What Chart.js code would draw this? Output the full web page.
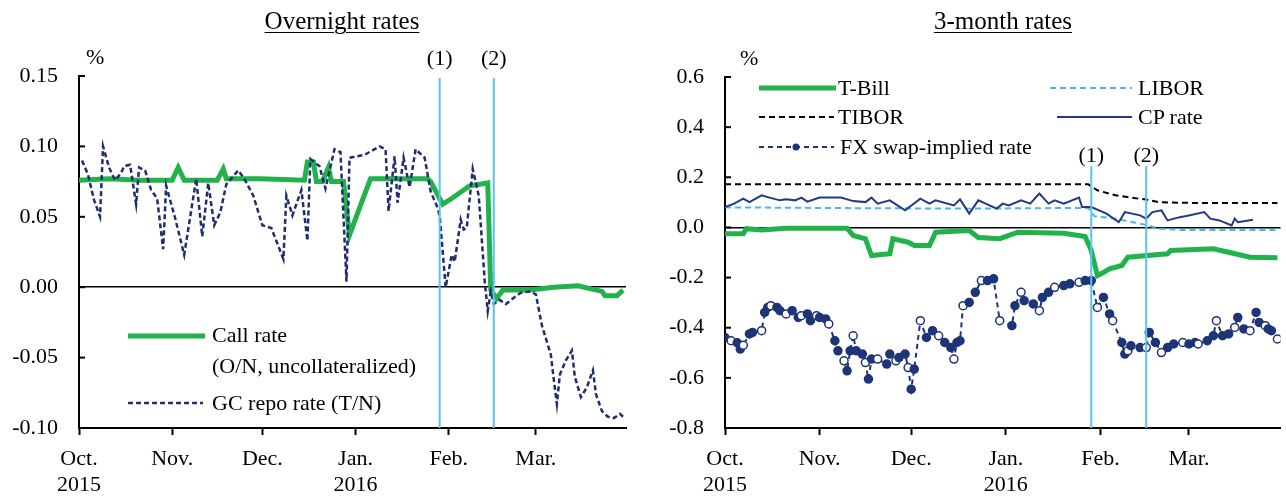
<!DOCTYPE html>
<html><head><meta charset="utf-8">
<script src="https://cdn.jsdelivr.net/npm/chart.js@4.4.0/dist/chart.umd.min.js"></script>
<style>
html,body{margin:0;padding:0;background:#fff;}
body{width:1286px;height:500px;position:relative;overflow:hidden;font-family:'Liberation Serif','Times New Roman',serif;color:#000;}
.t{position:absolute;white-space:nowrap;font-size:22px;line-height:22px;}
.title{font-size:25px;line-height:25px;text-decoration:underline;text-underline-offset:3px;text-decoration-thickness:1px;transform:translateX(-50%);}
.ev{transform:translateX(-50%);}
#c1{position:absolute;left:0;top:0;}
#c2{position:absolute;left:640px;top:0;}
#leg{position:absolute;left:0;top:0;}
</style></head><body>
<canvas id="c1" width="640" height="500"></canvas>
<canvas id="c2" width="646" height="500"></canvas>
<svg id="leg" width="1286" height="500">
  <line x1="128" y1="336" x2="205" y2="336" stroke="#21b24b" stroke-width="5"/>
  <line x1="128" y1="403" x2="203" y2="403" stroke="#1f2d6e" stroke-width="2.5" stroke-dasharray="5,3"/>
  <line x1="759" y1="88" x2="836" y2="88" stroke="#21b24b" stroke-width="5"/>
  <line x1="1050" y1="88" x2="1132" y2="88" stroke="#45b8e8" stroke-width="2" stroke-dasharray="6,4"/>
  <line x1="759" y1="117" x2="834" y2="117" stroke="#000" stroke-width="2" stroke-dasharray="6,4"/>
  <line x1="1057" y1="117" x2="1132" y2="117" stroke="#233a80" stroke-width="2"/>
  <line x1="759" y1="147" x2="834" y2="147" stroke="#1e3478" stroke-width="2" stroke-dasharray="5,4"/>
  <circle cx="796" cy="147" r="3.5" fill="#1e3478"/>
</svg>
<div class="t title" style="left:342px;top:8px;">Overnight rates</div>
<div class="t title" style="left:1003px;top:8px;">3-month rates</div>
<div class="t" style="left:86px;top:46px;">%</div>
<div class="t" style="left:740px;top:47px;">%</div>
<div class="t ev" id="l1a" style="left:438px;top:47px;">(1)</div>
<div class="t ev" id="l1b" style="left:492px;top:47px;">(2)</div>
<div class="t ev" id="l2a" style="left:1092px;top:144px;">(1)</div>
<div class="t ev" id="l2b" style="left:1147px;top:144px;">(2)</div>
<div class="t" style="left:212px;top:324px;">Call rate</div>
<div class="t" style="left:212px;top:355px;">(O/N, uncollateralized)</div>
<div class="t" style="left:212px;top:392px;">GC repo rate (T/N)</div>
<div class="t" style="left:838px;top:77px;">T-Bill</div>
<div class="t" style="left:1138px;top:77px;">LIBOR</div>
<div class="t" style="left:838px;top:106px;">TIBOR</div>
<div class="t" style="left:1138px;top:106px;">CP rate</div>
<div class="t" style="left:840px;top:136px;">FX swap-implied rate</div>
<script>
// x values: calendar days since 1 Oct 2015
const monthTickDays = [0, 31, 61, 92, 123, 152];
const monthTickLabels = [['Oct.', '2015'], ['Nov.'], ['Dec.'], ['Jan.', '2016'], ['Feb.'], ['Mar.']];
const eventDays = [120, 138];
const leftYTicks = [-0.10, -0.05, 0, 0.05, 0.10, 0.15];
const rightYTicks = [-0.8, -0.6, -0.4, -0.2, 0, 0.2, 0.4, 0.6];

// Overnight rates
const callDays = [0,10,20,31,33,35,46,48,49,60,75,76,78,79,81,83,84,88,90,94,97,105,116,117,121,124,130,136,137,139,141,150,158,166,170,174,175,179,181];
const callRate = [0.076,0.077,0.076,0.076,0.085,0.076,0.076,0.084,0.077,0.077,0.076,0.089,0.089,0.075,0.075,0.085,0.075,0.075,0.037,0.060,0.077,0.077,0.077,0.075,0.059,0.063,0.072,0.074,-0.002,-0.008,-0.002,-0.002,0.000,0.001,-0.001,-0.003,-0.006,-0.006,-0.002];
const gcDays = [1,3,5,7,8,10,12,14,15,17,19,20,22,24,26,28,29,32,35,39,41,43,45,47,49,53,55,58,61,64,68,69,71,74,76,77,80,82,85,87,89,90,95,100,102,103,105,106,108,110,112,115,117,119,120,122,124,125,127,128,129,131,133,135,136,137,138,140,142,145,147,150,152,154,157,158,159,160,162,164,165,167,169,171,172,174,176,178,180,181];
const gcRepo = [0.090,0.080,0.062,0.050,0.100,0.085,0.076,0.081,0.086,0.087,0.059,0.085,0.083,0.069,0.063,0.027,0.072,0.049,0.023,0.077,0.036,0.074,0.044,0.053,0.073,0.083,0.077,0.065,0.044,0.042,0.020,0.065,0.051,0.069,0.033,0.091,0.086,0.070,0.098,0.096,0.004,0.092,0.094,0.100,0.098,0.054,0.093,0.060,0.092,0.071,0.098,0.092,0.068,0.058,0.051,0.000,0.023,0.018,0.048,0.041,0.042,0.084,0.065,0.004,-0.017,-0.003,-0.012,-0.009,-0.012,-0.007,-0.004,-0.003,-0.005,-0.027,-0.048,-0.066,-0.083,-0.062,-0.052,-0.045,-0.064,-0.078,-0.071,-0.059,-0.076,-0.088,-0.092,-0.093,-0.090,-0.092];

// 3-month rates
const tbillDays = [0,6,7,12,20,40,42,46,48,54,55,60,62,67,69,80,83,90,96,111,118,120,122,124,126,130,132,145,146,160,165,172,181];
const tbill = [-0.025,-0.025,-0.005,-0.010,-0.003,-0.003,-0.032,-0.045,-0.112,-0.105,-0.045,-0.059,-0.072,-0.072,-0.019,-0.012,-0.040,-0.045,-0.019,-0.023,-0.036,-0.092,-0.192,-0.180,-0.165,-0.152,-0.119,-0.105,-0.092,-0.085,-0.099,-0.119,-0.121];
const tiborDays = [0,119,122,128,134,138,142,150,181];
const tibor = [0.172,0.172,0.148,0.128,0.117,0.111,0.101,0.098,0.097];
const liborDays = [0,40,80,119,121,128,134,138,142,150,181];
const libor = [0.080,0.077,0.075,0.078,0.045,0.035,0.020,0.010,-0.005,-0.010,-0.010];
const cpDays = [0,3,6,8,12,14,18,20,23,25,27,31,38,42,46,48,50,54,59,64,67,69,75,77,80,83,89,91,93,97,100,103,106,108,111,116,117,120,125,129,131,136,138,140,143,145,149,152,157,159,162,166,167,168,173];
const cpRate = [0.081,0.095,0.115,0.101,0.128,0.121,0.108,0.112,0.108,0.119,0.103,0.119,0.119,0.105,0.101,0.119,0.095,0.108,0.068,0.115,0.095,0.108,0.088,0.112,0.055,0.108,0.075,0.095,0.088,0.108,0.095,0.135,0.095,0.108,0.095,0.119,0.081,0.081,0.055,0.021,0.061,0.048,0.035,0.061,0.068,0.028,0.041,0.048,0.061,0.035,0.028,0.008,0.035,0.021,0.031];
const fxDays = [0,2,4,5,6,8,9,12,13,14,15,17,18,20,22,24,25,27,28,30,31,33,34,36,37,39,40,41,42,43,45,46,47,48,50,53,54,56,57,59,60,61,62,64,66,68,70,72,74,75,76,77,78,80,82,84,86,88,90,94,95,97,98,101,103,104,106,108,111,113,116,118,120,122,124,126,127,130,131,132,133,136,138,139,141,143,145,147,150,152,154,155,158,160,161,163,165,167,168,170,172,174,175,177,178,179,181];
const fxSwap = [-0.439,-0.452,-0.460,-0.485,-0.470,-0.425,-0.419,-0.412,-0.339,-0.319,-0.312,-0.319,-0.332,-0.345,-0.332,-0.359,-0.352,-0.345,-0.372,-0.352,-0.359,-0.365,-0.385,-0.452,-0.492,-0.532,-0.572,-0.492,-0.432,-0.492,-0.505,-0.539,-0.605,-0.525,-0.525,-0.545,-0.505,-0.532,-0.519,-0.505,-0.559,-0.645,-0.565,-0.372,-0.439,-0.412,-0.432,-0.459,-0.479,-0.525,-0.459,-0.452,-0.312,-0.299,-0.259,-0.212,-0.212,-0.205,-0.372,-0.392,-0.312,-0.259,-0.292,-0.305,-0.332,-0.279,-0.259,-0.239,-0.232,-0.225,-0.219,-0.212,-0.212,-0.319,-0.279,-0.345,-0.372,-0.459,-0.505,-0.492,-0.472,-0.479,-0.479,-0.419,-0.459,-0.499,-0.479,-0.465,-0.459,-0.465,-0.459,-0.465,-0.452,-0.432,-0.372,-0.432,-0.425,-0.399,-0.359,-0.405,-0.412,-0.339,-0.379,-0.392,-0.405,-0.412,-0.445];

const FONT = "'Liberation Serif','Times New Roman',serif";
const GREEN = '#21b24b', NAVY = '#1f2d6e', CPBLUE = '#233a80', FXBLUE = '#1e3478', LBLUE = '#45b8e8', EVBLUE = '#5bc3ef';

function pts(days, vals) { return days.map((d, i) => ({ x: d, y: vals[i] })); }

function decorPlugin(lineTop) {
  return {
    id: 'decor',
    afterDatasetsDraw(chart) {
      const { ctx, chartArea: a, scales: { x, y } } = chart;
      ctx.save();
      ctx.strokeStyle = EVBLUE; ctx.lineWidth = 2;
      eventDays.forEach(d => {
        const px = x.getPixelForValue(d);
        ctx.beginPath(); ctx.moveTo(px, lineTop); ctx.lineTo(px, a.bottom); ctx.stroke();
      });
      ctx.strokeStyle = '#000'; ctx.lineWidth = 2;
      y.ticks.forEach(t => {
        const py = y.getPixelForValue(t.value);
        ctx.beginPath(); ctx.moveTo(a.left, py); ctx.lineTo(a.left + 6, py); ctx.stroke();
      });
      ctx.restore();
    }
  };
}

function xScale() {
  return {
    type: 'linear', min: 0, max: 182,
    afterBuildTicks: s => { s.ticks = monthTickDays.map(v => ({ value: v })); },
    ticks: { autoSkip: false, maxRotation: 0, padding: 11, color: '#000', font: { family: FONT, size: 22, lineHeight: 1.2 },
      callback: (v, i) => monthTickLabels[i] },
    grid: { display: true, drawOnChartArea: false, drawTicks: true, tickLength: 7, tickWidth: 2, tickColor: '#000' },
    border: { display: true, color: '#000', width: 2 },
    afterFit: s => { s.height = 72; }
  };
}

function yScale(min, max, tickVals, dec, width) {
  return {
    min: min, max: max,
    afterBuildTicks: s => { s.ticks = tickVals.map(v => ({ value: v })); },
    ticks: { padding: 21, color: '#000', font: { family: FONT, size: 22 }, callback: v => Number(v).toFixed(dec) },
    grid: { display: true, drawTicks: false, lineWidth: 1.5,
      color: c => (c.tick && Math.abs(c.tick.value) < 1e-9) ? '#000' : 'rgba(0,0,0,0)' },
    border: { display: true, color: '#000', width: 2 },
    afterFit: s => { s.width = width; }
  };
}

const common = (pad) => ({
  responsive: false, animation: false, devicePixelRatio: 1,
  layout: { padding: pad },
  plugins: { legend: { display: false }, tooltip: { enabled: false } },
  elements: { line: { tension: 0 } }
});

const chart1 = new Chart(document.getElementById('c1'), {
  type: 'line',
  data: { datasets: [
    { label: 'GC repo rate (T/N)', data: pts(gcDays, gcRepo), borderColor: NAVY, borderWidth: 2.5, borderDash: [5, 3], pointRadius: 0, order: 0 },
    { label: 'Call rate (O/N, uncollateralized)', data: pts(callDays, callRate), borderColor: GREEN, borderWidth: 5, pointRadius: 0, order: 1 }
  ] },
  options: Object.assign(common({ top: 76, right: 14, left: 0, bottom: 0 }), {
    scales: { x: xScale(), y: yScale(-0.10, 0.15, leftYTicks, 2, 79) }
  }),
  plugins: [decorPlugin(78)]
});

const fxFill = c => (c.dataIndex % 3 === 1 ? '#ffffff' : FXBLUE);
const chart2 = new Chart(document.getElementById('c2'), {
  type: 'line',
  data: { datasets: [
    { label: 'FX swap-implied rate', data: pts(fxDays, fxSwap), borderColor: FXBLUE, borderWidth: 2, borderDash: [5, 4], pointRadius: 4, pointBorderWidth: 1.5, pointBorderColor: FXBLUE, pointBackgroundColor: fxFill, order: 0 },
    { label: 'CP rate', data: pts(cpDays, cpRate), borderColor: CPBLUE, borderWidth: 2, pointRadius: 0, order: 1 },
    { label: 'LIBOR', data: pts(liborDays, libor), borderColor: LBLUE, borderWidth: 2, borderDash: [6, 4], pointRadius: 0, order: 2 },
    { label: 'TIBOR', data: pts(tiborDays, tibor), borderColor: '#000', borderWidth: 2, borderDash: [6, 4], pointRadius: 0, order: 3 },
    { label: 'T-Bill', data: pts(tbillDays, tbill), borderColor: GREEN, borderWidth: 5, pointRadius: 0, order: 4 }
  ] },
  options: Object.assign(common({ top: 77, right: 4, left: 0, bottom: 0 }), {
    scales: { x: xScale(), y: yScale(-0.8, 0.6, rightYTicks, 1, 85) }
  }),
  plugins: [decorPlugin(166)]
});

// centre the (1)/(2) labels on the event lines
[['l1a', chart1, 0, 0], ['l1b', chart1, 1, 0], ['l2a', chart2, 0, 640], ['l2b', chart2, 1, 640]].forEach(([id, ch, k, off]) => {
  document.getElementById(id).style.left = (off + ch.scales.x.getPixelForValue(eventDays[k])) + 'px';
});
</script>
</body></html>
